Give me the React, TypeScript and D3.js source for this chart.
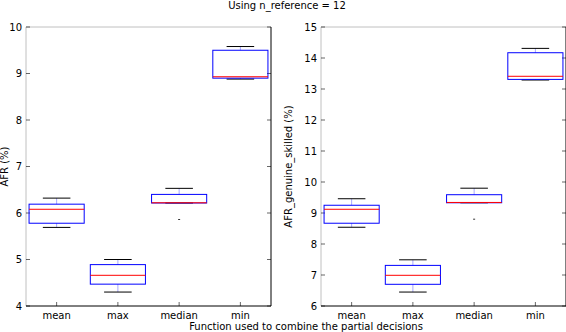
import React from 'react';
import * as d3 from 'd3';

const categories = ['mean', 'max', 'median', 'min'];

// [lowCap, q1, median, q3, highCap]
const afrBoxes = [
  [5.69, 5.78, 6.08, 6.19, 6.32],
  [4.3, 4.47, 4.66, 4.89, 5.0],
  [6.215, 6.215, 6.22, 6.4, 6.53],
  [8.88, 8.9, 8.93, 9.5, 9.58],
];
const afrFliers = [[], [], [5.86], []];

const skilledBoxes = [
  [8.54, 8.67, 9.12, 9.25, 9.46],
  [6.45, 6.7, 6.99, 7.31, 7.49],
  [9.33, 9.33, 9.34, 9.59, 9.8],
  [13.29, 13.31, 13.41, 14.17, 14.31],
];
const skilledFliers = [[], [], [8.8], []];

const afrTicks = [4, 5, 6, 7, 8, 9, 10];
const skilledTicks = [6, 7, 8, 9, 10, 11, 12, 13, 14, 15];

const font = 'DejaVu Sans, sans-serif';

type PanelProps = {
  x0: number;
  x1: number;
  domain: [number, number];
  ticks: number[];
  boxes: number[][];
  fliers: number[][];
  label: string;
  labelX: number;
};

const top = 27;
const bottom = 306;

const Panel = ({ x0, x1, domain, ticks, boxes, fliers, label, labelX }: PanelProps) => {
  const y = d3.scaleLinear().domain(domain).range([bottom, top]);
  const x = d3.scaleLinear().domain([0.5, 4.5]).range([x0, x1]);
  const half = (x(1.45) - x(1)) / 1;
  const capHalf = half / 2;

  return (
    <g>
      {/* spines */}
      <line x1={x0} x2={x0} y1={top} y2={bottom} stroke="#c0c0c0" />
      <line x1={x0} x2={x1} y1={top} y2={top} stroke="#c0c0c0" />
      <line x1={x1} x2={x1} y1={top} y2={bottom} stroke="#000" />
      <line x1={x0} x2={x1} y1={bottom} y2={bottom} stroke="#000" />

      {ticks.map((t) => (
        <g key={t}>
          <line x1={x0} x2={x0 + 4} y1={y(t)} y2={y(t)} stroke="#000" strokeWidth={0.6} />
          <line x1={x1} x2={x1 - 4} y1={y(t)} y2={y(t)} stroke="#000" strokeWidth={0.6} />
          <text x={x0 - 4} y={y(t)} dy="0.35em" textAnchor="end" fontSize={10} fontFamily={font}>
            {t}
          </text>
        </g>
      ))}

      {categories.map((c, i) => {
        const cx = x(i + 1);
        const [lo, q1, med, q3, hi] = boxes[i];
        return (
          <g key={c}>
            <line x1={cx} x2={cx} y1={bottom} y2={bottom - 4} stroke="#000" strokeWidth={0.6} />
            <text x={cx} y={315} dy="0.35em" textAnchor="middle" fontSize={10} fontFamily={font}>
              {c}
            </text>
            {/* whiskers */}
            <line x1={cx} x2={cx} y1={y(q3)} y2={y(hi)} stroke="#a8a8ff" />
            <line x1={cx} x2={cx} y1={y(q1)} y2={y(lo)} stroke="#a8a8ff" />
            {/* caps */}
            <line x1={cx - capHalf} x2={cx + capHalf} y1={y(hi)} y2={y(hi)} stroke="#000" />
            <line x1={cx - capHalf} x2={cx + capHalf} y1={y(lo)} y2={y(lo)} stroke="#000" />
            {/* box */}
            <rect
              x={cx - half}
              y={y(q3)}
              width={half * 2}
              height={y(q1) - y(q3)}
              fill="none"
              stroke="#0000ff"
            />
            {/* median */}
            <line x1={cx - half} x2={cx + half} y1={y(med)} y2={y(med)} stroke="#ff0000" />
            {fliers[i].map((f, j) => (
              <line key={j} x1={cx - 1} x2={cx + 1} y1={y(f)} y2={y(f)} stroke="#333" />
            ))}
          </g>
        );
      })}

      <text
        transform={`translate(${labelX},${(top + bottom) / 2}) rotate(-90)`}
        textAnchor="middle"
        fontSize={10}
        fontFamily={font}
      >
        {label}
      </text>
    </g>
  );
};

const App = () => (
  <svg
    width={566}
    height={332}
    style={{ position: 'absolute', left: 0, top: 0, background: '#fff' }}
  >
    <rect width={566} height={332} fill="#fff" />
    <text x={287} y={9} textAnchor="middle" fontSize={10} fontFamily={font}>
      Using n_reference = 12
    </text>
    <Panel
      x0={26}
      x1={271}
      domain={[4, 10]}
      ticks={afrTicks}
      boxes={afrBoxes}
      fliers={afrFliers}
      label="AFR (%)"
      labelX={8}
    />
    <Panel
      x0={321}
      x1={566}
      domain={[6, 15]}
      ticks={skilledTicks}
      boxes={skilledBoxes}
      fliers={skilledFliers}
      label="AFR_genuine_skilled (%)"
      labelX={292}
    />
    <text x={306} y={330} textAnchor="middle" fontSize={10} fontFamily={font}>
      Function used to combine the partial decisions
    </text>
  </svg>
);

export default App;
